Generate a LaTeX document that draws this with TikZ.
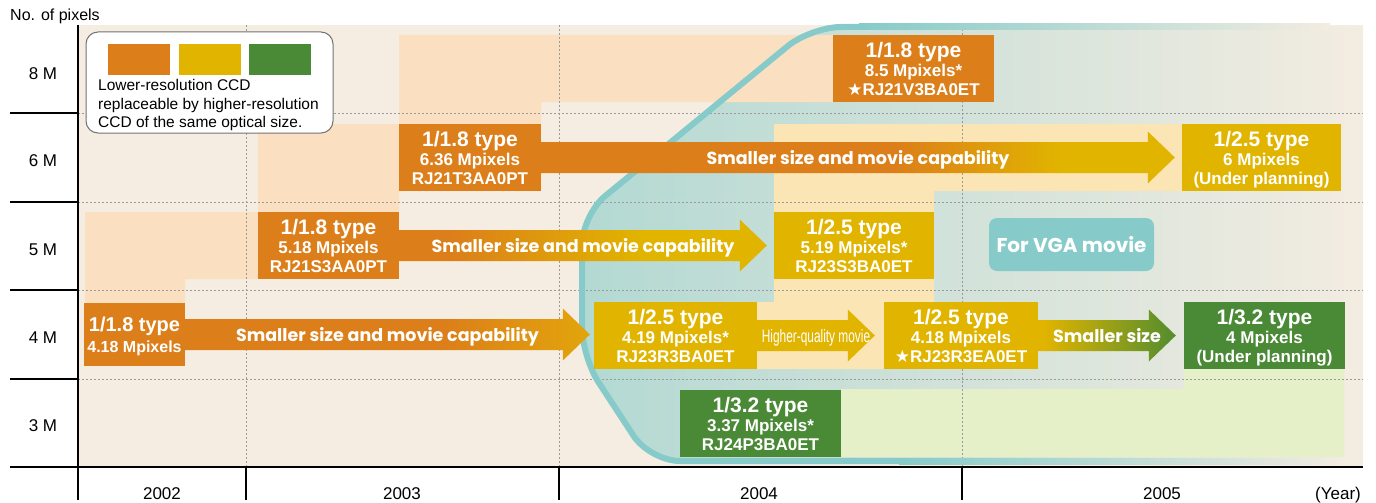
\documentclass[tikz,border=0pt]{standalone}
\usepackage{fontspec}
\setmainfont{Liberation Sans}
\newfontfamily\popf{Poppins}
\newfontfamily\narrowf[FakeStretch=0.66]{Liberation Sans}
\newfontfamily\symf{DejaVu Sans}
\usetikzlibrary{calc}
\definecolor{bgbeige}{HTML}{F5EDE1}
\definecolor{peach}{HTML}{FADFC0}
\definecolor{corange}{HTML}{DC7F1A}
\definecolor{cyellow}{HTML}{E1B400}
\definecolor{cgreen}{HTML}{4A8935}
\definecolor{cgreenb}{HTML}{5A8F2C}
\definecolor{cgold}{HTML}{E2A50B}
\definecolor{lyellow}{HTML}{FCE5B4}
\definecolor{lgreen}{HTML}{E5EFC8}
\definecolor{tealline}{HTML}{86CBC9}
\definecolor{tealfill}{HTML}{B3D9D3}
\definecolor{fadeend}{HTML}{F3ECE1}
\definecolor{gridgray}{HTML}{9A9A9A}
\pgfdeclarehorizontalshading{arrA}{100bp}{color(0bp)=(corange); color(57bp)=(corange); color(75bp)=(cgold); color(100bp)=(cgold)}
\pgfdeclarehorizontalshading{arrB}{100bp}{color(0bp)=(corange); color(32bp)=(corange); color(58bp)=(cyellow); color(100bp)=(cyellow)}
\pgfdeclarehorizontalshading{arrC}{100bp}{color(0bp)=(corange); color(53bp)=(corange); color(66bp)=(cyellow); color(100bp)=(cyellow)}
\pgfdeclarehorizontalshading{arrD}{100bp}{color(0bp)=(cyellow); color(27bp)=(cyellow); color(72bp)=(cgreenb); color(100bp)=(cgreenb)}
\pgfdeclarehorizontalshading{arrY}{100bp}{color(0bp)=(cyellow); color(100bp)=(cyellow)}
\newcommand\flowarrow[6]{%
  \shade[shading=#1] let \p1=(#2.east), \p2=(#3.west) in
    (\x1,\y1+15.5pt) -- (\x2-#4-27pt,\y1+15.5pt) -- (\x2-#4-27pt,\y1+26pt) -- (\x2-#4,\y1)
    -- (\x2-#4-27pt,\y1-26pt) -- (\x2-#4-27pt,\y1-15.5pt) -- (\x1,\y1-15.5pt) -- cycle;
  \path let \p1=(#2.east), \p2=(#3.west) in
    node[flowlbl] (#5) at ({(\x1+\x2-#4)/2},\y1-7pt) {#6};}
\begin{document}
\begin{tikzpicture}[x=1pt,y=-1pt,
  box/.style={rectangle, inner sep=0pt, text=white, align=center, text depth=0pt,
    font=\bfseries\fontsize{17}{19}\selectfont},
  flowlbl/.style={text=white, inner sep=0pt, anchor=base, font=\popf\bfseries\fontsize{17.5}{17.5}\selectfont},
  gridline/.style={gridgray, line width=0.9pt, dash pattern=on 2pt off 2pt},
  axisline/.style={black, line width=1.3pt},
  axlbl/.style={anchor=base, inner sep=0pt, font=\fontsize{17}{17}\selectfont},
  swatch/.style={rectangle, inner sep=0pt, minimum width=62pt, minimum height=31pt}]
\useasboundingbox (0,0) rectangle (1376,503);
% background
\fill[bgbeige] (78,25) rectangle (1363,467);
% teal region fill
\shade[left color=tealfill, right color=fadeend]
  (1363,27) [rounded corners=30pt] -- (811,27) -- (582,215) -- (582,357) -- (650,461) -- (1000,461)
  [sharp corners] -- (1363,461) -- cycle;
% light "replaceable" regions
\fill[peach] (85,212) -- (258,212) -- (258,279) -- (185,279) -- (185,303) -- (85,303) -- cycle;
\fill[peach] (258,212) -- (258,124) -- (399,124) -- (399,35) -- (833,35) -- (833,102) -- (541,102)
  -- (541,191) -- (399,191) -- (399,212) -- cycle;
\fill[lyellow] (774,124) -- (1182,124) -- (1182,191) -- (934,191) -- (934,302) -- (884,302)
  -- (884,369) -- (757,369) -- (757,302) -- (774,302) -- cycle;
\fill[lgreen] (841,389) -- (1184,389) -- (1184,369) -- (1344,369) -- (1344,457) -- (841,457) -- cycle;
% grid
\foreach \yy in {113,202,290,379} \draw[gridline] (78,\yy) -- (1363,\yy);
\foreach \xx in {246,559,962} \draw[gridline] (\xx,25) -- (\xx,467);
% teal border
\draw[tealline, line width=6pt, rounded corners=30pt]
  (860,27) -- (811,27) -- (582,215) -- (582,357) -- (650,461) -- (900,461);
\shade[left color=tealline, right color=fadeend] (859,24) rectangle (1330,30);
\shade[left color=tealline, right color=fadeend] (899,458) rectangle (1345,464);
% boxes
\node[box, fill=corange, minimum width=101pt, minimum height=63pt, font=\bfseries\fontsize{16}{21}\selectfont]
  (a418) at (134.5,334.5) {{\fontsize{20}{21}\selectfont 1/1.8 type}\\4.18 Mpixels};
\node[box, fill=corange, minimum width=141pt, minimum height=67pt]
  (a518) at (328.5,245.5) {{\fontsize{21}{19}\selectfont 1/1.8 type}\\5.18 Mpixels\\RJ21S3AA0PT};
\node[box, fill=corange, minimum width=142pt, minimum height=67pt]
  (a636) at (470,157.5) {{\fontsize{21}{19}\selectfont 1/1.8 type}\\6.36 Mpixels\\RJ21T3AA0PT};
\node[box, fill=corange, minimum width=161pt, minimum height=67pt]
  (a85) at (913.5,68.5) {{\fontsize{21}{19}\selectfont 1/1.8 type}\\8.5 Mpixels*\\{\symf\bfseries ★}RJ21V3BA0ET};
\node[box, fill=cyellow, minimum width=159pt, minimum height=67pt]
  (y6) at (1261.5,157.5) {{\fontsize{21}{19}\selectfont 1/2.5 type}\\6 Mpixels\\(Under planning)};
\node[box, fill=cyellow, minimum width=160pt, minimum height=67pt]
  (y519) at (854,245.5) {{\fontsize{21}{19}\selectfont 1/2.5 type}\\5.19 Mpixels*\\RJ23S3BA0ET};
\node[box, fill=cyellow, minimum width=163pt, minimum height=67pt]
  (y419) at (675.5,335.5) {{\fontsize{21}{19}\selectfont 1/2.5 type}\\4.19 Mpixels*\\RJ23R3BA0ET};
\node[box, fill=cyellow, minimum width=154pt, minimum height=67pt]
  (y418) at (961,335.5) {{\fontsize{21}{19}\selectfont 1/2.5 type}\\4.18 Mpixels\\{\symf\bfseries ★}RJ23R3EA0ET};
\node[box, fill=cgreen, minimum width=161pt, minimum height=67pt]
  (g4) at (1264.5,335.5) {{\fontsize{21}{19}\selectfont 1/3.2 type}\\4 Mpixels\\(Under planning)};
\node[box, fill=cgreen, minimum width=161pt, minimum height=67pt]
  (g337) at (760.5,423.5) {{\fontsize{21}{19}\selectfont 1/3.2 type}\\3.37 Mpixels*\\RJ24P3BA0ET};
\node[rectangle, rounded corners=8pt, fill=tealline, minimum width=165pt, minimum height=53pt, inner sep=0pt,
  text=white, font=\popf\bfseries\fontsize{20}{20}\selectfont] (vga) at (1071.5,244.5) {For VGA movie};
% arrows
\flowarrow{arrA}{a418}{y419}{4pt}{l1}{Smaller size and movie capability}
\flowarrow{arrB}{a518}{y519}{7pt}{l2}{Smaller size and movie capability}
\flowarrow{arrC}{a636}{y6}{7pt}{l3}{Smaller size and movie capability}
\flowarrow{arrY}{y419}{y418}{9pt}{l4}{{\narrowf\mdseries\fontsize{18}{18}\selectfont Higher-quality movie}}
\flowarrow{arrD}{y418}{g4}{8pt}{l5}{Smaller size}
% legend
\node[draw=black!55, line width=1pt, fill=white, rounded corners=12pt, minimum width=247pt, minimum height=101pt, inner sep=0pt]
  (legend) at (209.5,82.5) {};
\node[swatch, fill=corange] (swo) at (139,59.5) {};
\node[swatch, fill=cyellow] (swy) at (210,59.5) {};
\node[swatch, fill=cgreen] (swg) at (280,59.5) {};
\node[anchor=north west, align=left, inner sep=0pt, font=\fontsize{15.5}{18.3}\selectfont]
  (legtxt) at (98,79.5) {Lower-resolution CCD\\replaceable by higher-resolution\\CCD of the same optical size.};
% axes
\draw[axisline] (78,25) -- (78,500);
\draw[axisline] (10,467) -- (1363,467);
\foreach \yy in {113,202,290,379} \draw[axisline] (10,\yy) -- (78,\yy);
\foreach \xx in {246,559,962} \draw[axisline] (\xx,467) -- (\xx,500);
\node[anchor=base west, inner sep=0pt, font=\fontsize{16}{16}\selectfont] (ylab) at (10,21) {No. of pixels};
\node[axlbl] (m8) at (43,79) {8 M};
\node[axlbl] (m6) at (43,166) {6 M};
\node[axlbl] (m5) at (43,255) {5 M};
\node[axlbl] (m4) at (43,343) {4 M};
\node[axlbl] (m3) at (43,431) {3 M};
\node[axlbl] (y2002) at (162,499) {2002};
\node[axlbl] (y2003) at (402,499) {2003};
\node[axlbl] (y2004) at (759,499) {2004};
\node[axlbl] (y2005) at (1162,499) {2005};
\node[axlbl] (yyear) at (1338,499) {(Year)};
\end{tikzpicture}
\end{document}
